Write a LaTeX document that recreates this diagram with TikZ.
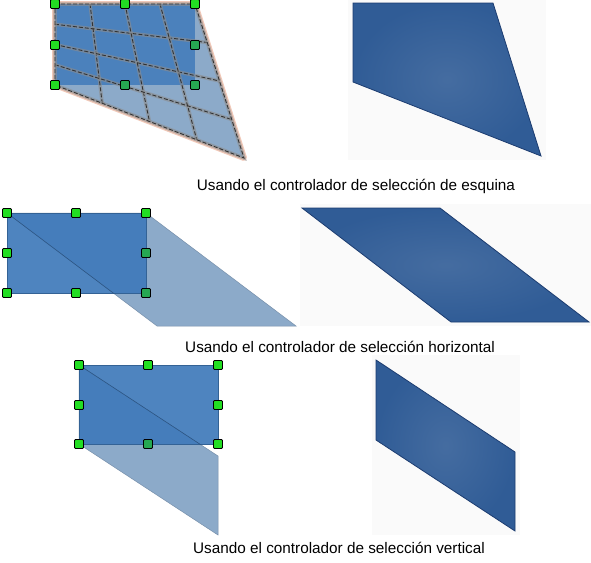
\documentclass[tikz,border=0pt]{standalone}
\usepackage{fontspec}
\setmainfont{Liberation Sans}
\usetikzlibrary{calc}

\definecolor{bodyblue}{RGB}{64,122,186}
\definecolor{ghostblue}{RGB}{140,170,201}
\definecolor{solidblue}{RGB}{48,92,150}
\definecolor{edgeblue}{RGB}{28,60,112}
\definecolor{handlegreen}{RGB}{34,222,34}
\definecolor{handledark}{RGB}{38,168,82}
\definecolor{salmon}{RGB}{240,200,184}

\begin{document}
\begin{tikzpicture}[x=1pt,y=-1pt,
  handle/.style={rectangle,draw=black,fill=handlegreen,minimum size=9pt,inner sep=0pt,line width=0.9pt,rounded corners=1pt},
  handledim/.style={handle,fill=handledark},
  ghost/.style={fill=ghostblue,draw=ghostblue!85!black,line width=0.5pt},
  body/.style={fill=bodyblue,fill opacity=0.92,draw=bodyblue!80!black,line width=0.6pt},
  seam/.style={draw=bodyblue!70!black,line width=0.6pt},
  solid/.style={shading=radial,inner color=solidblue!90!white,outer color=solidblue,draw=edgeblue,line width=0.8pt},
  backbox/.style={fill=black!2},
  gridback/.style={draw=black!45,line width=3.5pt,opacity=0.6},
  gridline/.style={draw=black!80,dash pattern=on 4pt off 2pt,line width=0.9pt},
  caption/.style={anchor=base,font=\fontsize{15.3}{18}\selectfont}]

\useasboundingbox[fill=white] (0,0) rectangle (591,562);

% ---------------- ESQUINA ----------------

\coordinate (A1) at (55,4);
\coordinate (B1) at (195,4);
\coordinate (C1) at (244,158);
\coordinate (D1) at (55,85);
\coordinate (E1) at (195,85);

\draw[salmon,line width=6pt,line join=round] (A1)--(B1)--(C1)--(D1)--cycle;
\fill[ghostblue] (A1)--(B1)--(C1)--(D1)--cycle;
\fill[bodyblue,fill opacity=0.85] (A1) rectangle (E1);

\foreach \t in {0.25,0.5,0.75} {
  \draw[gridback] ($(A1)!\t!(B1)$)--($(D1)!\t!(C1)$);
  \draw[gridback] ($(A1)!\t!(D1)$)--($(B1)!\t!(C1)$);
  \draw[gridline] ($(A1)!\t!(B1)$)--($(D1)!\t!(C1)$);
  \draw[gridline] ($(A1)!\t!(D1)$)--($(B1)!\t!(C1)$);
}
\draw[gridback] (A1)--(B1)--(C1)--(D1)--cycle;
\draw[gridline] (A1)--(B1)--(C1)--(D1)--cycle;

\node[handle] (h1a) at (55,4) {};
\node[handle] (h1b) at (125,4) {};
\node[handle] (h1c) at (195,4) {};
\node[handle] (h1d) at (55,45) {};
\node[handledim] (h1e) at (195,45) {};
\node[handle] (h1f) at (55,85) {};
\node[handledim] (h1g) at (125,85) {};
\node[handledim] (h1h) at (195,85) {};

\fill[backbox] (348,0) rectangle (546,160);
\coordinate (P1) at (353,3);
\coordinate (Q1) at (493,3);
\coordinate (R1) at (541,156);
\coordinate (S1) at (353,82);
\path[solid] (P1)--(Q1)--(R1)--(S1)--cycle;

\node[caption] (cap1) at (356,190) {Usando el controlador de selección de esquina};

% ---------------- HORIZONTAL ----------------

\coordinate (A2) at (7,213);
\coordinate (B2) at (146,213);
\coordinate (C2) at (296,326);
\coordinate (D2) at (157,326);
\coordinate (E2) at (146,293);

\path[ghost] (A2)--(B2)--(C2)--(D2)--cycle;
\path[body] (A2) rectangle (E2);
\begin{scope}
  \clip (A2) rectangle (E2);
  \draw[seam] (A2)--(D2);
\end{scope}

\node[handle] (h2a) at (7,213) {};
\node[handle] (h2b) at (76,213) {};
\node[handle] (h2c) at (146,213) {};
\node[handle] (h2d) at (7,253) {};
\node[handledim] (h2e) at (146,253) {};
\node[handle] (h2f) at (7,293) {};
\node[handle] (h2g) at (76,293) {};
\node[handledim] (h2h) at (146,293) {};

\fill[backbox] (300,204) rectangle (591,326);
\coordinate (P2) at (302,208);
\coordinate (Q2) at (440,208);
\coordinate (R2) at (589,322);
\coordinate (S2) at (451,322);
\path[solid] (P2)--(Q2)--(R2)--(S2)--cycle;

\node[caption] (cap2) at (340,352) {Usando el controlador de selección horizontal};

% ---------------- VERTICAL ----------------

\coordinate (A3) at (79,365);
\coordinate (B3) at (218,365);
\coordinate (C3) at (218,456);
\coordinate (D3) at (218,535);
\coordinate (E3) at (218,444);
\coordinate (F3) at (79,444);

\path[ghost] (A3)--(C3)--(D3)--(F3)--cycle;
\path[body] (A3) rectangle (E3);
\begin{scope}
  \clip (A3) rectangle (E3);
  \draw[seam] (A3)--(C3);
\end{scope}

\node[handle] (h3a) at (79,365) {};
\node[handle] (h3b) at (148,365) {};
\node[handle] (h3c) at (218,365) {};
\node[handle] (h3d) at (79,405) {};
\node[handle] (h3e) at (218,405) {};
\node[handle] (h3f) at (79,444) {};
\node[handledim] (h3g) at (148,444) {};
\node[handle] (h3h) at (218,444) {};

\fill[backbox] (372,355) rectangle (520,535);
\coordinate (P3) at (376,360);
\coordinate (Q3) at (515,452);
\coordinate (R3) at (515,531);
\coordinate (S3) at (376,440);
\path[solid] (P3)--(Q3)--(R3)--(S3)--cycle;

\node[caption] (cap3) at (339,553) {Usando el controlador de selección vertical};

\end{tikzpicture}
\end{document}
